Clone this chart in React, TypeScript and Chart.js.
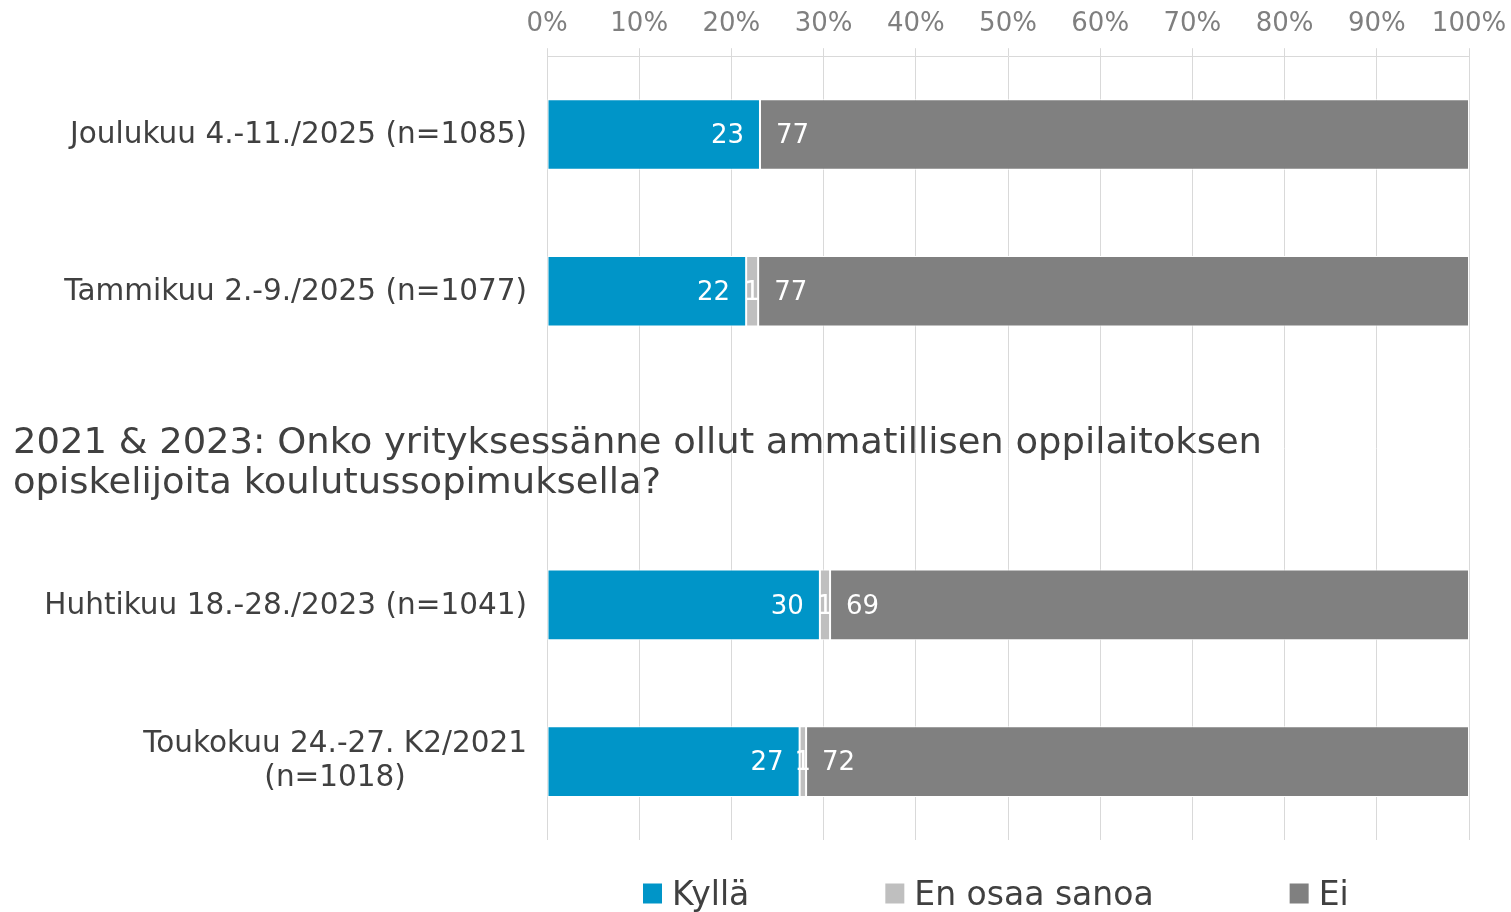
import React, { useEffect, useRef } from "react";
import { Chart, registerables } from "chart.js";

Chart.register(...registerables);

const categories: (string | string[])[] = [
  "Joulukuu 4.-11./2025 (n=1085)",
  "Tammikuu 2.-9./2025 (n=1077)",
  "",
  "Huhtikuu 18.-28./2023 (n=1041)",
  ["Toukokuu 24.-27. K2/2021", "(n=1018)"],
];

const kyllaValues = [23.1, 21.6, null, 29.6, 27.4];
const eosValues = [0, 1.3, null, 1.1, 0.7];
const eiValues = [76.9, 77.1, null, 69.3, 71.9];

const seriesNames = ["Kyllä", "En osaa sanoa", "Ei"];
const seriesColors = ["#0095C8", "#BFBFBF", "#808080"];

const xTicks = [0, 10, 20, 30, 40, 50, 60, 70, 80, 90, 100];

const sectionTitle = [
  "2021 & 2023: Onko yrityksessänne ollut ammatillisen oppilaitoksen",
  "opiskelijoita koulutussopimuksella?",
];

const FONT = "'DejaVu Sans', Verdana, sans-serif";
const TEXT = "#404040";

const labelsPlugin = {
  id: "customLabels",
  afterDatasetsDraw(chart: any) {
    const ctx = chart.ctx;
    ctx.save();
    ctx.font = `26px ${FONT}`;
    ctx.fillStyle = "#FFFFFF";
    ctx.textBaseline = "middle";
    chart.data.datasets.forEach((ds: any, di: number) => {
      const meta = chart.getDatasetMeta(di);
      meta.data.forEach((bar: any, i: number) => {
        const v = ds.data[i];
        if (v === null || v === undefined) return;
        const r = Math.round(v);
        if (r === 0) return;
        const txt = String(r);
        const left = Math.min(bar.base, bar.x);
        const right = Math.max(bar.base, bar.x);
        if (di === 0) {
          ctx.textAlign = "right";
          ctx.fillText(txt, right - 16, bar.y + 2);
        } else if (di === 1) {
          ctx.textAlign = "center";
          ctx.fillText(txt, (left + right) / 2, bar.y + 2);
        } else {
          ctx.textAlign = "left";
          ctx.fillText(txt, left + 16, bar.y + 2);
        }
      });
    });
    ctx.restore();
  },
  afterDraw(chart: any) {
    const ctx = chart.ctx;
    const yScale = chart.scales.y;
    const area = chart.chartArea;
    ctx.save();
    // category labels
    ctx.font = `29.5px ${FONT}`;
    ctx.fillStyle = TEXT;
    ctx.textBaseline = "middle";
    const rightEdge = area.left - 20;
    chart.data.labels.forEach((lab: any, i: number) => {
      const y = yScale.getPixelForValue(i);
      if (Array.isArray(lab)) {
        const widths = lab.map((l: string) => ctx.measureText(l).width);
        const maxW = Math.max(...widths);
        const cx = rightEdge - maxW / 2;
        const lh = 34;
        const startY = y - ((lab.length - 1) * lh) / 2;
        ctx.textAlign = "center";
        lab.forEach((l: string, k: number) => ctx.fillText(l, cx, startY + k * lh));
      } else if (lab) {
        ctx.textAlign = "right";
        ctx.fillText(lab, rightEdge, y + 1);
      }
    });

    // section title
    ctx.font = `35px ${FONT}`;
    ctx.textAlign = "left";
    ctx.textBaseline = "alphabetic";
    const w1 = ctx.measureText(sectionTitle[0]).width;
    const sx = 1249 / w1;
    const midY = yScale.getPixelForValue(2);
    sectionTitle.forEach((line, k) => {
      ctx.save();
      ctx.translate(13, midY + 5 + k * 40);
      ctx.scale(sx, 1);
      ctx.fillText(line, 0, 0);
      ctx.restore();
    });

    // legend
    ctx.font = `33px ${FONT}`;
    ctx.textBaseline = "alphabetic";
    const box = 19;
    const boxGap = 10;
    const itemGap = 136;
    const widths = chart.data.datasets.map(
      (ds: any) => box + boxGap + ctx.measureText(ds.label).width
    );
    let x = 643;
    const ly = 893;
    chart.data.datasets.forEach((ds: any, di: number) => {
      ctx.fillStyle = ds.backgroundColor;
      ctx.fillRect(x, ly - box / 2, box, box + 1);
      ctx.fillStyle = TEXT;
      ctx.textAlign = "left";
      ctx.fillText(ds.label, x + box + boxGap, 905);
      x += widths[di] + itemGap;
    });
    ctx.restore();
  },
};

export default function App() {
  const ref = useRef<HTMLCanvasElement | null>(null);
  useEffect(() => {
    document.body.style.margin = "0";
    if (!ref.current) return;
    const data = [kyllaValues, eosValues, eiValues];
    const chart = new Chart(ref.current, {
      type: "bar",
      data: {
        labels: categories as any,
        datasets: seriesNames.map((name, i) => ({
          label: name,
          data: data[i] as any,
          backgroundColor: seriesColors[i],
          borderColor: "#FFFFFF",
          borderWidth: 1,
          borderSkipped: false,
          barPercentage: 0.45,
          categoryPercentage: 1,
        })),
      },
      options: {
        indexAxis: "y",
        responsive: false,
        animation: false,
        layout: { autoPadding: false, padding: { left: 547, right: 42, top: 1, bottom: 72 } },
        plugins: {
          legend: { display: false },
          title: { display: false },
          tooltip: { enabled: false },
        },
        scales: {
          x: {
            stacked: true,
            position: "top",
            min: 0,
            max: 100,
            afterBuildTicks: (axis: any) => {
              axis.ticks = xTicks.map((v) => ({ value: v }));
            },
            afterFit: (axis: any) => {
              axis.paddingLeft = 0;
              axis.paddingRight = 0;
            },
            ticks: {
              callback: (v: any) => v + "%",
              font: { family: FONT, size: 26 },
              color: "#7F7F7F",
              padding: 8,
              maxRotation: 0,
            },
            grid: { color: "#D9D9D9", tickLength: 8, lineWidth: 1 },
            border: { color: "#D9D9D9" },
          },
          y: {
            stacked: true,
            display: false,
          },
        },
      },
      plugins: [labelsPlugin],
    });
    return () => chart.destroy();
  }, []);
  return (
    <div style={{ position: "absolute", left: 0, top: 0 }}>
      <canvas ref={ref} width={1511} height={912} />
    </div>
  );
}
